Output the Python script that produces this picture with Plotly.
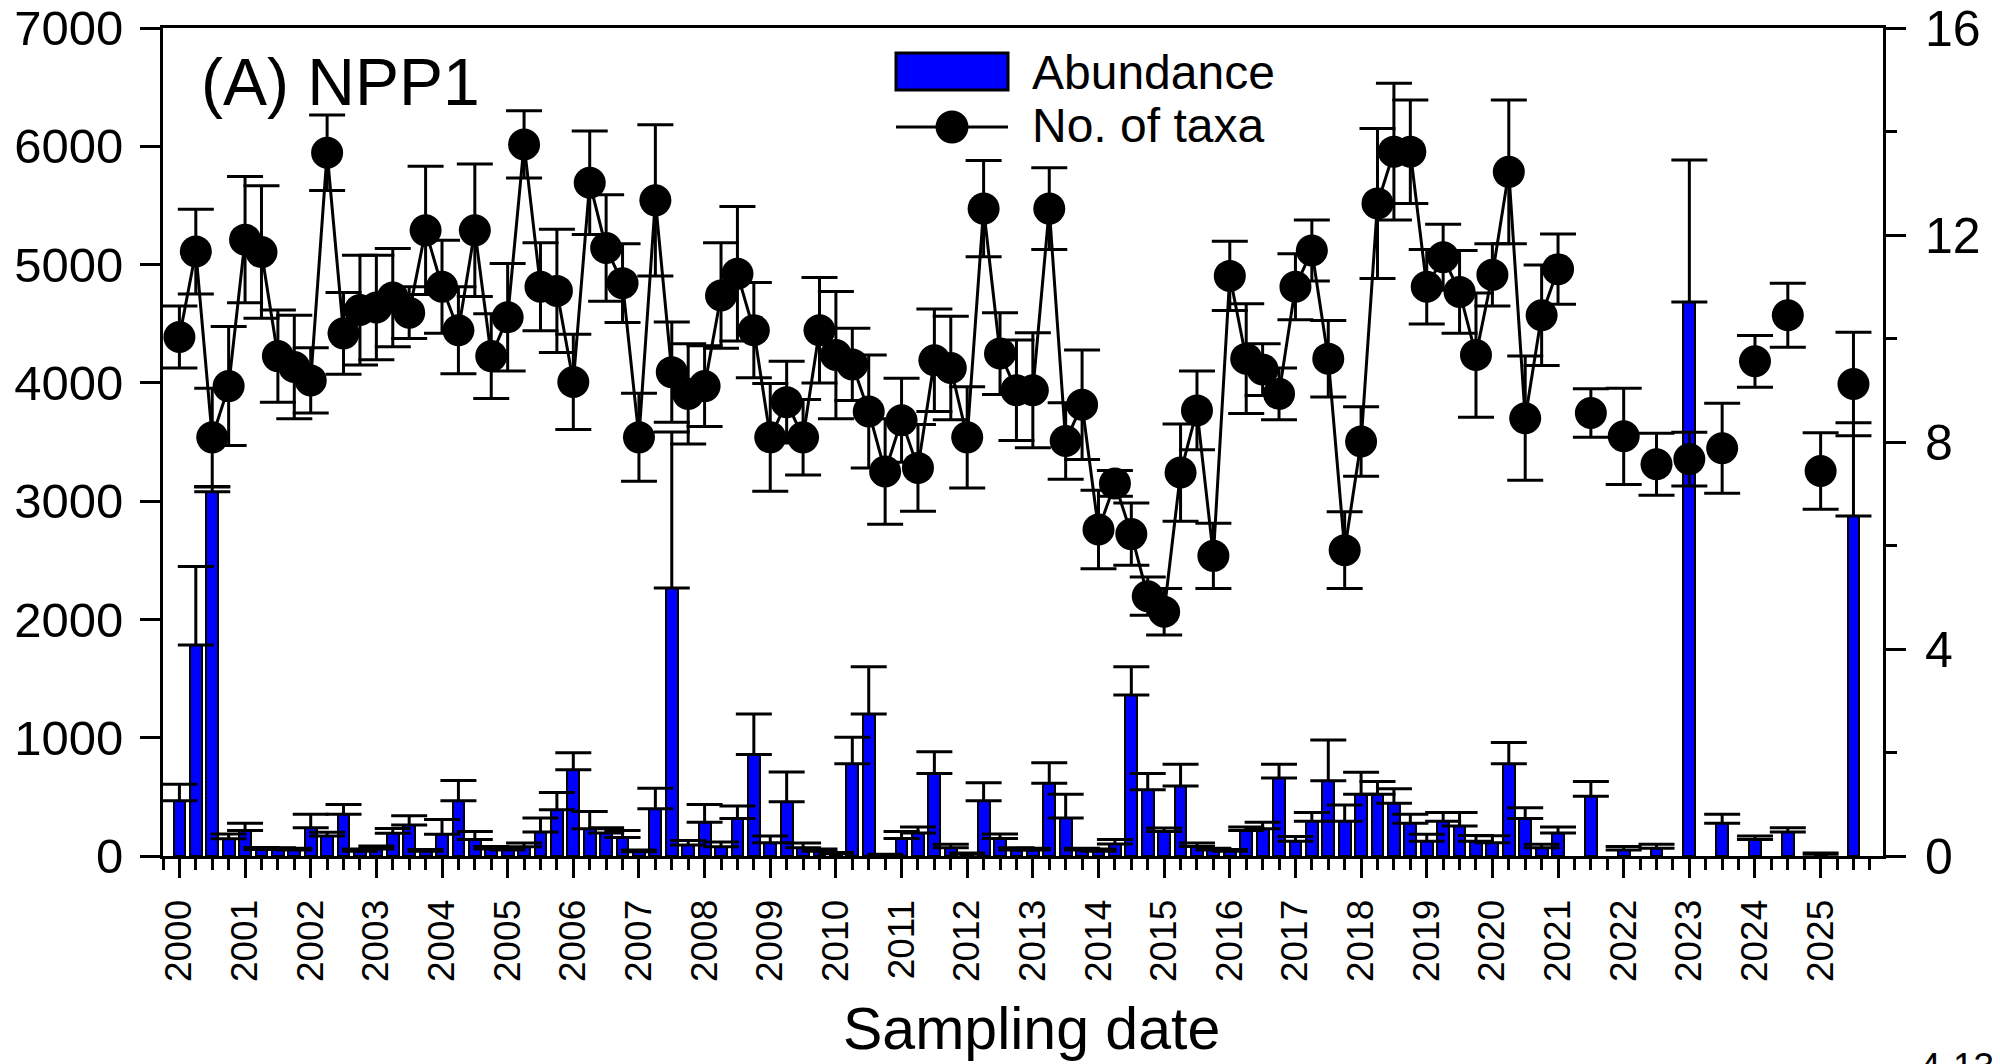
import plotly.graph_objects as go

# sampling dates (decimal years): quarterly to 2021, half-yearly after
dates = [
    2000.0, 2000.25, 2000.5, 2000.75,
    2001.0, 2001.25, 2001.5, 2001.75,
    2002.0, 2002.25, 2002.5, 2002.75,
    2003.0, 2003.25, 2003.5, 2003.75,
    2004.0, 2004.25, 2004.5, 2004.75,
    2005.0, 2005.25, 2005.5, 2005.75,
    2006.0, 2006.25, 2006.5, 2006.75,
    2007.0, 2007.25, 2007.5, 2007.75,
    2008.0, 2008.25, 2008.5, 2008.75,
    2009.0, 2009.25, 2009.5, 2009.75,
    2010.0, 2010.25, 2010.5, 2010.75,
    2011.0, 2011.25, 2011.5, 2011.75,
    2012.0, 2012.25, 2012.5, 2012.75,
    2013.0, 2013.25, 2013.5, 2013.75,
    2014.0, 2014.25, 2014.5, 2014.75,
    2015.0, 2015.25, 2015.5, 2015.75,
    2016.0, 2016.25, 2016.5, 2016.75,
    2017.0, 2017.25, 2017.5, 2017.75,
    2018.0, 2018.25, 2018.5, 2018.75,
    2019.0, 2019.25, 2019.5, 2019.75,
    2020.0, 2020.25, 2020.5, 2020.75,
    2021.0,
    2021.5, 2022.0, 2022.5, 2023.0, 2023.5, 2024.0, 2024.5, 2025.0, 2025.5,
]

abundance = [
    468, 1784, 3080, 145,
    216, 56, 55, 50,
    239, 170, 353, 40,
    60, 193, 262, 40,
    184, 468, 139, 60,
    50, 79, 203, 391,
    730, 230, 194, 156,
    35, 400, 2265, 93,
    285, 79, 317, 858,
    111, 459, 70, 40,
    20, 779, 1201, 10,
    147, 194, 697, 70,
    15, 468, 147, 50,
    50, 615, 322, 50,
    40, 101, 1362, 560,
    207, 592, 80, 50,
    40, 216, 230, 660,
    124, 294, 637, 294,
    523, 523, 446, 276,
    124, 294, 253, 124,
    111, 779, 317, 70,
    194,
    505, 50, 65, 4684, 276, 139, 203, 15, 2874,
]

abundance_se = [
    138, 664, 40, 40,
    60, 15, 15, 15,
    114, 30, 83, 20,
    25, 40, 78, 15,
    124, 170, 68, 20,
    20, 30, 118, 146,
    142, 146, 45, 60,
    15, 173, 1319, 37,
    151, 40, 106, 343,
    59, 252, 40, 20,
    10, 225, 399, 5,
    60, 51, 184, 30,
    10, 152, 40, 20,
    15, 174, 201, 15,
    20, 38, 238, 137,
    30, 183, 30, 15,
    15, 30, 55, 115,
    40, 74, 344, 137,
    184, 106, 123, 77,
    60, 74, 115, 50,
    60, 180, 91, 30,
    51,
    124, 30, 35, 1200, 77, 30, 35, 10, 788,
]

taxa = [
    10.03, 11.68, 8.09, 9.08,
    11.91, 11.67, 9.66, 9.45,
    9.19, 13.59, 10.10, 10.55,
    10.60, 10.79, 10.50, 12.09,
    11.00, 10.16, 12.09, 9.66,
    10.41, 13.75, 11.00, 10.92,
    9.16, 13.01, 11.75, 11.07,
    8.09, 12.67, 9.35, 8.93,
    9.08, 10.83, 11.25, 10.16,
    8.09, 8.77, 8.09, 10.16,
    9.68, 9.50, 8.59, 7.43,
    8.42, 7.50, 9.58, 9.43,
    8.09, 12.51, 9.71, 9.00,
    9.00, 12.51, 8.02, 8.72,
    6.31, 7.20, 6.22, 5.02,
    4.72, 7.41, 8.61, 5.80,
    11.21, 9.61, 9.40, 8.93,
    11.00, 11.70, 9.61, 5.91,
    8.01, 12.61, 13.61, 13.61,
    11.00, 11.57, 10.90, 9.68,
    11.23, 13.22, 8.46, 10.45,
    11.34,
    8.56, 8.11, 7.57, 7.67, 7.88, 9.56, 10.45, 7.44, 9.12,
]

taxa_se = [
    0.60, 0.82, 0.95, 1.15,
    1.22, 1.28, 0.89, 1.00,
    0.63, 0.73, 0.79, 1.06,
    1.01, 0.95, 0.50, 1.24,
    0.90, 0.84, 1.28, 0.82,
    1.04, 0.65, 0.85, 1.19,
    0.92, 1.00, 1.03, 0.76,
    0.85, 1.46, 0.97, 0.97,
    0.78, 1.02, 1.30, 0.92,
    1.04, 0.79, 0.73, 1.02,
    1.23, 0.70, 1.09, 1.02,
    0.81, 0.84, 0.99, 1.00,
    0.98, 0.93, 0.79, 0.97,
    1.11, 0.79, 0.74, 1.06,
    0.76, 0.25, 0.60, 0.37,
    0.45, 0.94, 0.76, 0.63,
    0.67, 1.06, 0.50, 0.50,
    0.64, 0.59, 0.74, 0.74,
    0.67, 1.45, 1.32, 1.00,
    0.72, 0.64, 0.80, 1.20,
    0.60, 1.39, 1.20, 0.97,
    0.68,
    0.47, 0.93, 0.60, 0.52, 0.87, 0.50, 0.62, 0.74, 1.00,
]

# points up to here are joined by a line, later ones are not
n_joined = 85

FONT = "Liberation Sans, Arial, sans-serif"
# the page body has an 8px margin, so the figure is drawn 8px in from the corner
OFF = 8
W, H = 2000 - OFF, 1064 - OFF
L, R, T, B = 155, 117, 20, 208
PW, PH = W - L - R, H - T - B


def px(x):
    # page pixel -> paper x
    return (x - OFF - L) / PW


def py(y):
    # page pixel -> paper y
    return (H - B - (y - OFF)) / PH


fig = go.Figure()

fig.add_trace(go.Bar(
    x=dates, y=abundance, width=0.18, yaxis="y",
    marker=dict(color="#0000ff", line=dict(color="black", width=2)),
    error_y=dict(type="data", array=abundance_se, arrayminus=[0] * len(abundance_se),
                 symmetric=False, color="black", thickness=3, width=18),
    showlegend=False,
))

err_style = dict(type="data", color="black", thickness=3, width=18)
fig.add_trace(go.Scatter(
    x=dates[:n_joined], y=taxa[:n_joined], yaxis="y2", mode="lines+markers",
    line=dict(color="black", width=3),
    marker=dict(color="black", size=32),
    error_y=dict(array=taxa_se[:n_joined], **err_style),
    showlegend=False,
))
fig.add_trace(go.Scatter(
    x=dates[n_joined:], y=taxa[n_joined:], yaxis="y2", mode="markers",
    marker=dict(color="black", size=32),
    error_y=dict(array=taxa_se[n_joined:], **err_style),
    showlegend=False,
))

axis_common = dict(showline=True, linecolor="black", linewidth=3, ticks="outside",
                   tickcolor="black", tickwidth=3, showgrid=False, zeroline=False,
                   automargin=False, ticklabeloverflow="allow")

fig.update_layout(
    width=W, height=H,
    margin=dict(l=L, r=R, t=T, b=B),
    paper_bgcolor="white", plot_bgcolor="white",
    font=dict(family=FONT, color="black"),
    bargap=0,
    xaxis=dict(range=[1999.75, 2025.95], tickmode="linear", tick0=2000, dtick=1,
               ticklen=19, tickangle=-90, tickfont=dict(size=37), mirror=True,
               ticklabelstandoff=7,
               minor=dict(tickmode="linear", tick0=2000, dtick=0.25, ticks="outside",
                          ticklen=11, tickwidth=3, tickcolor="black"),
               **axis_common),
    yaxis=dict(range=[0, 7000], dtick=1000, ticklen=20, tickfont=dict(size=49),
               ticklabelstandoff=7, **axis_common),
    yaxis2=dict(range=[0, 16], dtick=4, ticklen=20, tickfont=dict(size=50),
                overlaying="y", side="right", ticklabelstandoff=9,
                minor=dict(dtick=2, ticks="outside", ticklen=11, tickwidth=3,
                           tickcolor="black"),
                **axis_common),
)

# panel label
fig.add_annotation(text="(A) NPP1", xref="paper", yref="paper", x=px(199), y=py(82),
                   xanchor="left", yanchor="middle", showarrow=False,
                   font=dict(size=66))

# x axis title
fig.add_annotation(text="Sampling date", xref="paper", yref="paper", x=px(1031), y=py(1029),
                   xanchor="center", yanchor="middle", showarrow=False,
                   font=dict(size=59))

# page number, partly cut at the bottom edge
fig.add_annotation(text="4-13", xref="paper", yref="paper", x=px(1918), y=py(1044),
                   xanchor="left", yanchor="top", showarrow=False,
                   font=dict(size=37))

# hand-made legend (swatch sizes as in the original)
fig.add_shape(type="rect", xref="paper", yref="paper",
              x0=px(896), x1=px(1008), y0=py(90), y1=py(53),
              fillcolor="#0000ff", line=dict(color="black", width=3))
fig.add_shape(type="line", xref="paper", yref="paper",
              x0=px(896), x1=px(1008), y0=py(127), y1=py(127),
              line=dict(color="black", width=3))
fig.add_shape(type="circle", xref="paper", yref="paper",
              xsizemode="pixel", ysizemode="pixel", xanchor=px(952), yanchor=py(127),
              x0=-16.5, x1=16.5, y0=-16.5, y1=16.5,
              fillcolor="black", line=dict(color="black", width=0))
fig.add_annotation(text="Abundance", xref="paper", yref="paper", x=px(1030), y=py(72),
                   xanchor="left", yanchor="middle", showarrow=False, font=dict(size=48))
fig.add_annotation(text="No. of taxa", xref="paper", yref="paper", x=px(1030), y=py(126),
                   xanchor="left", yanchor="middle", showarrow=False, font=dict(size=48))

fig.write_html("out.html")
